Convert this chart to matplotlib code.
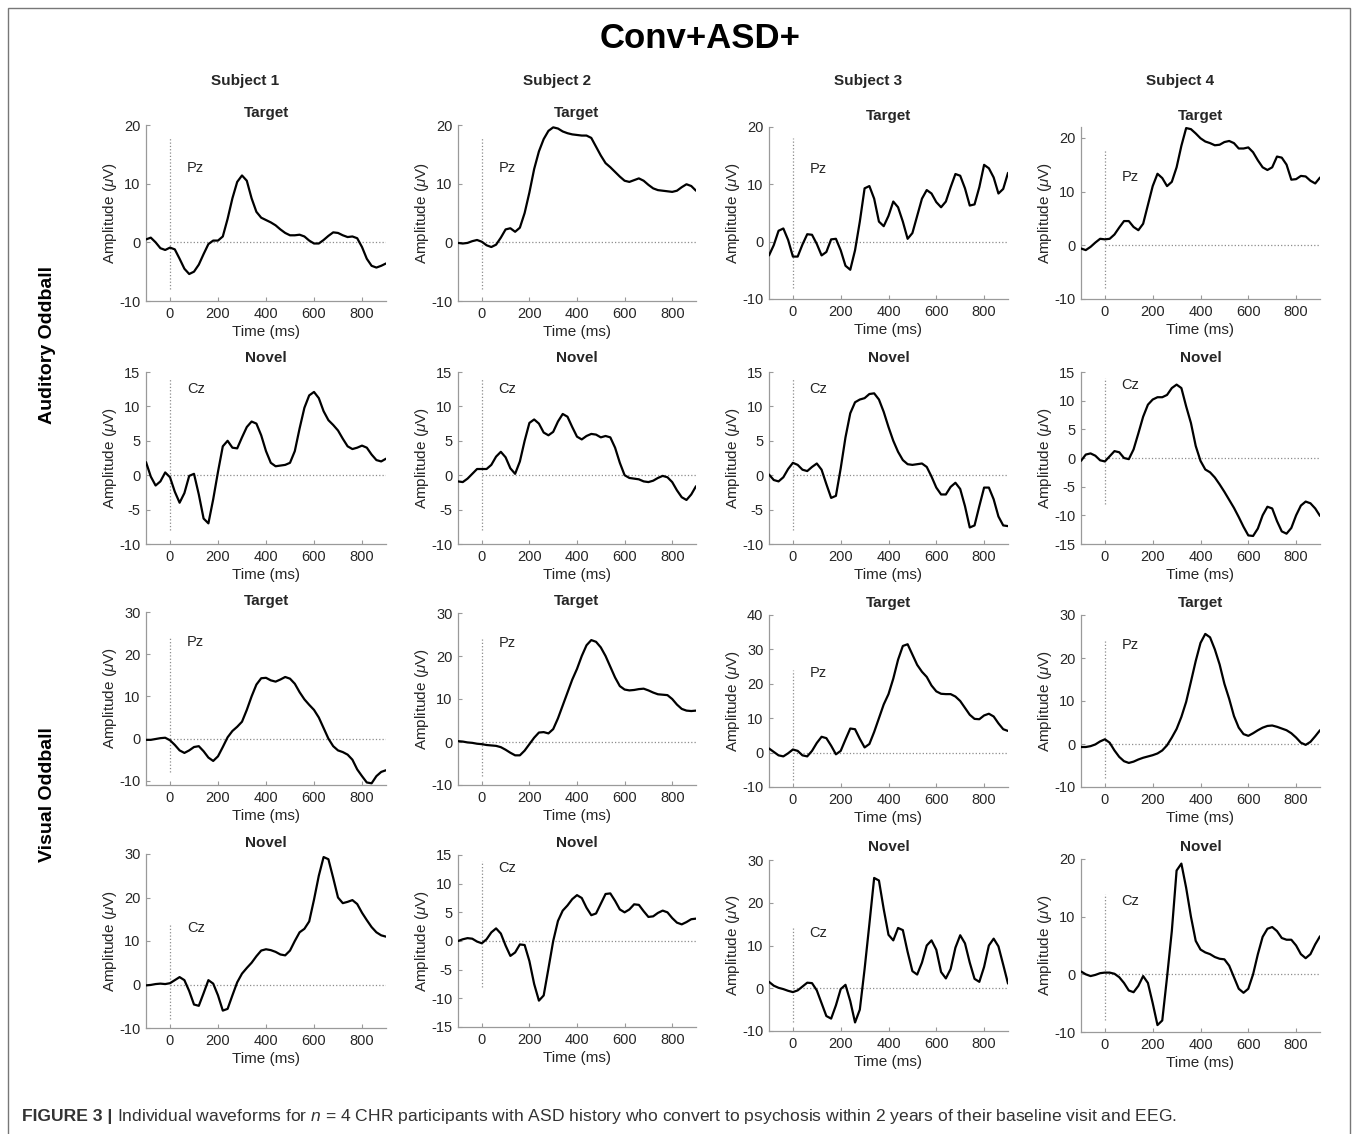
import numpy as np
import matplotlib.pyplot as plt
from matplotlib.patches import Rectangle

plt.rcParams['font.family'] = ['Liberation Sans', 'DejaVu Sans']
plt.rcParams['mathtext.fontset'] = 'custom'
plt.rcParams['mathtext.rm'] = 'Liberation Sans'
plt.rcParams['mathtext.it'] = 'Liberation Sans:italic'

# epoch time base, one sample every 20 ms
time_ms = np.arange(-100, 901, 20)

subjects = ['Subject 1', 'Subject 2', 'Subject 3', 'Subject 4']
conditions = ['Target', 'Novel', 'Target', 'Novel']
electrodes = ['Pz', 'Cz', 'Pz', 'Cz']
paradigms = ['Auditory Oddball', 'Visual Oddball']

# auditory oddball, target stimuli (Pz), uV
aud_target_s1 = [0.5, 0.8, 0.0, -1.0, -1.3, -0.9, -1.2, -2.8, -4.5, -5.4,
                 -5.0, -3.8, -2.0, -0.3, 0.3, 0.3, 1.0, 4.0, 7.5, 10.3,
                 11.4, 10.5, 7.5, 5.2, 4.2, 3.8, 3.4, 2.9, 2.2, 1.6,
                 1.2, 1.2, 1.3, 1.0, 0.3, -0.2, -0.2, 0.4, 1.1, 1.7,
                 1.6, 1.2, 0.9, 1.0, 0.7, -0.8, -2.8, -4.0, -4.3, -4.0,
                 -3.6]
aud_target_s2 = [-0.1, -0.2, -0.1, 0.2, 0.4, 0.1, -0.5, -0.8, -0.4, 0.8,
                 2.2, 2.4, 1.8, 2.5, 5.0, 8.5, 12.5, 15.5, 17.6, 19.0,
                 19.6, 19.4, 18.9, 18.6, 18.4, 18.3, 18.2, 18.2, 17.8, 16.3,
                 14.8, 13.5, 12.8, 12.0, 11.2, 10.5, 10.3, 10.6, 10.9, 10.5,
                 9.8, 9.2, 8.9, 8.8, 8.7, 8.6, 8.8, 9.4, 9.9, 9.6,
                 8.8]
aud_target_s3 = [-2.4, -0.6, 1.9, 2.3, 0.3, -2.6, -2.6, -0.5, 1.3, 1.2,
                 -0.4, -2.4, -1.8, 0.4, 0.5, -1.5, -4.2, -4.9, -1.5, 3.5,
                 9.3, 9.7, 7.5, 3.5, 2.7, 4.5, 7.0, 6.0, 3.5, 0.5,
                 1.5, 4.5, 7.5, 9.0, 8.4, 6.9, 6.0, 7.0, 9.5, 11.8,
                 11.5, 9.3, 6.3, 6.5, 9.5, 13.4, 12.8, 11.2, 8.4, 9.2,
                 12.0]
aud_target_s4 = [-0.6, -0.9, -0.3, 0.5, 1.2, 1.1, 1.2, 2.0, 3.3, 4.5,
                 4.5, 3.4, 2.8, 4.0, 7.5, 11.0, 13.3, 12.5, 11.0, 11.8,
                 14.5, 18.5, 21.8, 21.6, 20.8, 19.9, 19.3, 19.0, 18.6, 18.7,
                 19.2, 19.4, 19.0, 18.0, 18.0, 18.2, 17.3, 15.8, 14.5, 14.0,
                 14.5, 16.5, 16.3, 15.0, 12.2, 12.3, 12.9, 12.8, 12.0, 11.5,
                 12.6]

# auditory oddball, novel stimuli (Cz)
aud_novel_s1 = [1.9, -0.2, -1.5, -0.9, 0.4, -0.3, -2.4, -4.0, -2.6, -0.1,
                0.2, -2.8, -6.3, -7.0, -3.5, 0.5, 4.2, 5.0, 4.0, 3.9,
                5.5, 7.0, 7.8, 7.5, 5.8, 3.5, 1.8, 1.3, 1.4, 1.5,
                1.8, 3.5, 6.8, 9.8, 11.6, 12.1, 11.2, 9.3, 8.0, 7.3,
                6.5, 5.3, 4.2, 3.8, 4.0, 4.3, 4.0, 3.0, 2.2, 2.0,
                2.4]
aud_novel_s2 = [-0.9, -1.0, -0.5, 0.2, 0.9, 0.9, 0.9, 1.5, 2.7, 3.4,
                2.6, 1.0, 0.2, 2.0, 5.0, 7.6, 8.1, 7.5, 6.2, 5.8,
                6.3, 7.8, 8.9, 8.5, 7.0, 5.6, 5.2, 5.7, 6.0, 5.9,
                5.5, 5.7, 5.5, 4.0, 1.8, 0.0, -0.4, -0.5, -0.6, -0.9,
                -1.0, -0.8, -0.4, -0.1, -0.3, -1.0, -2.2, -3.2, -3.6, -2.8,
                -1.6]
aud_novel_s3 = [0.1, -0.7, -0.9, -0.3, 0.9, 1.8, 1.5, 0.8, 0.6, 1.2,
                1.7, 0.8, -1.3, -3.3, -3.0, 1.0, 5.5, 9.0, 10.6, 11.0,
                11.2, 11.8, 11.9, 11.0, 9.2, 7.0, 5.0, 3.4, 2.2, 1.6,
                1.5, 1.6, 1.7, 1.2, -0.2, -1.8, -2.8, -2.8, -1.7, -1.1,
                -2.0, -4.5, -7.6, -7.3, -4.5, -1.8, -1.8, -3.5, -6.0, -7.3,
                -7.4]
aud_novel_s4 = [-0.5, 0.6, 0.8, 0.4, -0.4, -0.6, 0.3, 1.2, 1.0, 0.0,
                -0.2, 1.5, 4.3, 7.2, 9.3, 10.2, 10.6, 10.6, 11.0, 12.2,
                12.8, 12.2, 9.0, 6.1, 2.1, -0.5, -2.0, -2.5, -3.4, -4.6,
                -5.9, -7.3, -8.7, -10.3, -12.0, -13.5, -13.6, -12.3, -10.0, -8.5,
                -8.8, -11.0, -12.8, -13.2, -12.2, -10.0, -8.3, -7.6, -7.9, -8.8,
                -10.1]

# visual oddball, target stimuli (Pz)
vis_target_s1 = [-0.3, -0.3, -0.1, 0.1, 0.2, -0.4, -1.5, -2.8, -3.4, -2.8,
                 -2.0, -1.8, -3.0, -4.5, -5.3, -4.2, -2.0, 0.3, 1.8, 2.8,
                 4.0, 6.8, 10.0, 12.8, 14.3, 14.4, 13.8, 13.5, 14.0, 14.6,
                 14.2, 13.0, 11.0, 9.3, 8.0, 6.8, 5.0, 2.5, 0.0, -1.8,
                 -2.8, -3.2, -3.8, -5.0, -7.3, -8.9, -10.4, -10.6, -8.9, -7.9,
                 -7.5]
vis_target_s2 = [0.2, 0.1, -0.1, -0.2, -0.4, -0.5, -0.7, -0.8, -0.9, -1.2,
                 -1.8, -2.5, -3.1, -3.1, -2.0, -0.5, 1.0, 2.2, 2.3, 2.0,
                 3.0, 5.5, 8.5, 11.5, 14.5, 17.0, 20.0, 22.5, 23.7, 23.3,
                 22.0, 20.0, 17.5, 15.0, 13.0, 12.2, 12.0, 12.1, 12.3, 12.4,
                 12.0, 11.5, 11.1, 11.0, 10.9, 10.0, 8.7, 7.7, 7.3, 7.2,
                 7.3]
vis_target_s3 = [1.2, 0.2, -0.8, -1.1, -0.2, 0.9, 0.5, -0.8, -1.1, 0.5,
                 2.8, 4.6, 4.2, 2.0, -0.5, 0.5, 3.8, 7.0, 6.8, 4.0,
                 1.5, 2.5, 6.0, 10.0, 14.0, 17.0, 21.5, 27.0, 31.0, 31.5,
                 28.5, 25.5, 23.5, 22.0, 19.5, 17.8, 17.1, 17.0, 17.0, 16.3,
                 15.0, 13.0, 11.0, 9.8, 9.7, 10.8, 11.3, 10.5, 8.5, 6.8,
                 6.3]
vis_target_s4 = [-0.7, -0.7, -0.5, -0.1, 0.6, 1.1, 0.3, -1.5, -3.0, -4.0,
                 -4.4, -4.1, -3.6, -3.2, -2.9, -2.6, -2.2, -1.5, -0.3, 1.5,
                 3.5, 6.3, 9.8, 14.5, 19.3, 23.5, 25.6, 24.8, 22.0, 18.5,
                 14.0, 10.5, 6.5, 3.8, 2.3, 1.9, 2.5, 3.2, 3.8, 4.2,
                 4.3, 4.0, 3.6, 3.2, 2.5, 1.5, 0.3, -0.2, 0.5, 1.8,
                 3.2]

# visual oddball, novel stimuli (Cz)
vis_novel_s1 = [-0.2, -0.1, 0.1, 0.2, 0.1, 0.3, 1.0, 1.7, 1.0, -1.5,
                -4.6, -4.9, -2.0, 1.0, 0.2, -2.5, -6.0, -5.6, -2.5, 0.5,
                2.5, 3.8, 5.0, 6.5, 7.8, 8.1, 7.9, 7.5, 6.9, 6.7,
                7.8, 10.0, 12.0, 12.8, 14.5, 19.5, 25.0, 29.3, 28.8, 24.5,
                20.0, 18.7, 19.0, 19.4, 18.5, 16.5, 14.8, 13.2, 12.0, 11.3,
                11.0]
vis_novel_s2 = [0.0, 0.3, 0.5, 0.4, -0.1, -0.4, 0.3, 1.5, 2.2, 1.3,
                -0.8, -2.6, -2.0, -0.6, -0.7, -3.5, -7.5, -10.4, -9.5, -4.8,
                0.0, 3.5, 5.3, 6.2, 7.3, 8.0, 7.5, 5.8, 4.5, 4.8,
                6.5, 8.2, 8.3, 7.0, 5.5, 5.0, 5.5, 6.4, 6.3, 5.2,
                4.2, 4.3, 4.9, 5.3, 5.0, 4.0, 3.2, 2.9, 3.3, 3.8,
                3.9]
vis_novel_s3 = [1.5, 0.6, 0.1, -0.2, -0.6, -0.9, -0.5, 0.4, 1.3, 1.2,
                -0.5, -3.5, -6.5, -7.1, -4.0, -0.2, 0.8, -3.0, -8.0, -5.0,
                4.5, 15.0, 25.8, 25.2, 18.5, 12.5, 11.2, 14.1, 13.6, 8.5,
                4.0, 3.2, 6.0, 10.0, 11.2, 9.0, 3.8, 2.3, 4.5, 9.5,
                12.4, 10.5, 6.0, 2.2, 1.5, 5.0, 10.0, 11.6, 9.8, 5.5,
                1.1]
vis_novel_s4 = [0.5, 0.0, -0.3, -0.1, 0.2, 0.3, 0.3, 0.1, -0.5, -1.5,
                -2.8, -3.1, -2.0, -0.3, -1.5, -5.0, -8.8, -8.0, -0.5, 7.5,
                18.0, 19.2, 15.0, 10.0, 5.8, 4.3, 3.8, 3.5, 3.0, 2.7,
                2.6, 1.5, -0.5, -2.5, -3.2, -2.5, 0.0, 3.5, 6.5, 7.9,
                8.2, 7.5, 6.3, 6.0, 6.0, 5.0, 3.5, 2.8, 3.5, 5.2,
                6.6]

waves = [[aud_target_s1, aud_target_s2, aud_target_s3, aud_target_s4],
         [aud_novel_s1, aud_novel_s2, aud_novel_s3, aud_novel_s4],
         [vis_target_s1, vis_target_s2, vis_target_s3, vis_target_s4],
         [vis_novel_s1, vis_novel_s2, vis_novel_s3, vis_novel_s4]]

# axis ranges, as on the original figure
ylims = [[(-10, 20), (-10, 20), (-10, 20), (-10, 22)],
         [(-10, 15), (-10, 15), (-10, 15), (-15, 15)],
         [(-11, 30), (-10, 30), (-10, 40), (-10, 30)],
         [(-10, 30), (-15, 15), (-10, 30), (-10, 20)]]
ysteps = [[10, 10, 10, 10], [5, 5, 5, 5], [10, 10, 10, 10], [10, 5, 10, 10]]

# ---- layout (pixels) ----
W, H = 1358, 1134
col_lr = [(146, 386), (458, 696), (769, 1008), (1081, 1320)]
row_tb = [[(125, 301), (125, 301), (127, 299), (127, 299)],
          [(372, 544), (372, 544), (372, 544), (372, 544)],
          [(612, 785), (613, 785), (615, 787), (615, 787)],
          [(854, 1028), (855, 1027), (860, 1031), (859, 1032)]]
title_y = [[113, 113, 116, 116], [358, 358, 358, 358],
           [601, 601, 603, 603], [843, 843, 847, 847]]
stim_top = [18, 14, 24, 14]
label_y = [12, 12, 22, 12]

fig = plt.figure(figsize=(W / 100, H / 100), dpi=100)
fig.patch.set_facecolor('white')
fig.add_artist(Rectangle((8 / W, -0.01), (1350 - 8) / W, 1 - 8 / H + 0.01,
                         transform=fig.transFigure, fill=False,
                         edgecolor='#777777', lw=1.0))

axis_grey = '#9a9a9a'
text_col = '#262626'

for r in range(4):
    for c in range(4):
        l, rr = col_lr[c]
        t, b = row_tb[r][c]
        ax = fig.add_axes([l / W, 1 - b / H, (rr - l) / W, (b - t) / H])
        ax.plot(time_ms, waves[r][c], color='black', lw=1.6, zorder=3,
                solid_joinstyle='round', solid_capstyle='round')
        ax.hlines(0, 0, time_ms[-1], colors='#8c8c8c', linestyles=':', lw=0.9)
        ax.vlines(0, -8, stim_top[r], colors='#8c8c8c', linestyles=':', lw=0.9)
        ax.text(70, label_y[r], electrodes[r], fontsize=10.5, color=text_col)

        lo, hi = ylims[r][c]
        step = ysteps[r][c]
        ax.set_xlim(time_ms[0], time_ms[-1])
        ax.set_ylim(lo, hi)
        ax.set_xticks([0, 200, 400, 600, 800])
        ax.set_yticks(np.arange(np.ceil(lo / step) * step, hi + 0.1, step))
        ax.yaxis.set_major_formatter(plt.FormatStrFormatter('%d'))
        for side in ['top', 'right']:
            ax.spines[side].set_visible(False)
        for side in ['left', 'bottom']:
            ax.spines[side].set_color(axis_grey)
            ax.spines[side].set_linewidth(0.9)
        ax.tick_params(direction='in', length=3, width=0.8, color=axis_grey,
                       labelsize=10.5, labelcolor=text_col, pad=4)
        ax.set_xlabel('Time (ms)', fontsize=11, color=text_col, labelpad=3)
        ax.set_ylabel('Amplitude ($\\mu$V)', fontsize=11, color=text_col, labelpad=0)
        ax.patch.set_alpha(0)

        fig.text((l + rr) / 2 / W, 1 - title_y[r][c] / H, conditions[r],
                 ha='center', va='center', fontsize=11, fontweight='bold', color=text_col)

# headings
fig.text(700 / W, 1 - 38 / H, 'Conv+ASD+', ha='center', va='center',
         fontsize=25, fontweight='bold', color='black')
for c, name in enumerate(subjects):
    fig.text([245, 557, 868, 1180][c] / W, 1 - 81 / H, name, ha='center', va='center',
             fontsize=11, fontweight='bold', color=text_col)
for i, name in enumerate(paradigms):
    fig.text(48 / W, 1 - [345, 795][i] / H, name, ha='center', va='center',
             rotation=90, fontsize=14, fontweight='bold', color='black')

# caption
cap_y = 1 - 1121 / H
bold = fig.text(22 / W, cap_y, 'FIGURE 3 |', ha='left', va='baseline',
                fontsize=12.6, fontweight='bold', color='#333333')
fig.canvas.draw()
bb = bold.get_window_extent()
fig.text((bb.x1 + 5) / W, cap_y,
         'Individual waveforms for $n$ = 4 CHR participants with ASD history who convert to '
         'psychosis within 2 years of their baseline visit and EEG.',
         ha='left', va='baseline', fontsize=12.6, color='#333333')

plt.savefig('out.png', dpi=100)
